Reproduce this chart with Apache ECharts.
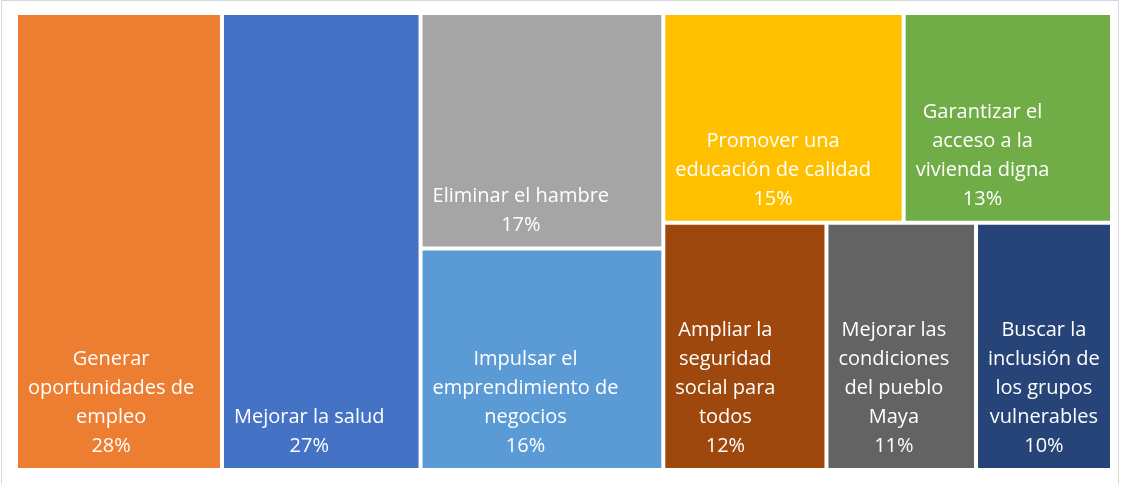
<!DOCTYPE html>
<html>
<head>
<meta charset="utf-8">
<script src="https://cdn.jsdelivr.net/npm/echarts@6/dist/echarts.min.js"></script>
<style>
html, body { margin: 0; padding: 0; background: #fff; }
#marco {
    position: absolute; left: 1px; top: 0px;
    width: 1118px; height: 490px;
    border: 1px solid #d9d9d9; box-sizing: border-box;
}
#charts { position: absolute; left: 0; top: 0; width: 1128px; height: 484px; }
</style>
</head>
<body>
<div id="marco"></div>
<div id="charts"></div>
<script>
const etiquetas = [
    'Generar\noportunidades de\nempleo',
    'Mejorar la salud',
    'Eliminar el hambre',
    'Impulsar el\nemprendimiento de\nnegocios',
    'Promover una\neducación de calidad',
    'Garantizar el\nacceso a la\nvivienda digna',
    'Ampliar la\nseguridad\nsocial para\ntodos',
    'Mejorar las\ncondiciones\ndel pueblo\nMaya',
    'Buscar la\ninclusión de\nlos grupos\nvulnerables'
];
const valores = [28, 27, 17, 16, 15, 13, 12, 11, 10];
const colores = ['#ED7D31', '#4472C4', '#A5A5A5', '#5B9BD5', '#FFC000', '#70AD47', '#9E480E', '#636363', '#264478'];
// como se agrupan los rectangulos en el grafico original
const grupos = [0, 1, [2, 3], [[4, 5], [6, 7, 8]]];

const fuente = '20px "Open Sans"';
const ctx = document.createElement('canvas').getContext('2d');
ctx.font = fuente;
function anchoMax(t) {
    return Math.max.apply(null, t.split('\n').map(l => ctx.measureText(l).width));
}

function nodo(g) {
    if (typeof g === 'number') {
        return {
            name: etiquetas[g],
            value: valores[g],
            itemStyle: { color: colores[g] },
            // bloque de texto pegado a la izquierda, lineas centradas
            label: { position: [10 + anchoMax(etiquetas[g]) / 2, '100%'] }
        };
    }
    return {
        name: '',
        itemStyle: { color: '#fff' },
        label: { show: false },
        children: g.map(nodo)
    };
}

let myChart = echarts.init(document.getElementById('charts'));
let option = {
    animation: false,
    series: [{
        type: 'treemap',
        left: 18, top: 15, width: 1092, height: 453,
        sort: false,
        squareRatio: 0.001,
        roam: false,
        nodeClick: false,
        breadcrumb: { show: false },
        itemStyle: { gapWidth: 4, borderWidth: 0, borderColor: '#fff' },
        label: {
            show: true,
            color: '#fff',
            fontFamily: 'Open Sans',
            fontSize: 20,
            lineHeight: 29,
            padding: 0,
            overflow: 'none',
            align: 'center',
            verticalAlign: 'bottom',
            offset: [0, -7],
            formatter: p => p.name + '\n' + p.value + '%'
        },
        data: grupos.map(nodo)
    }]
};
myChart.setOption(option);
</script>
</body>
</html>
